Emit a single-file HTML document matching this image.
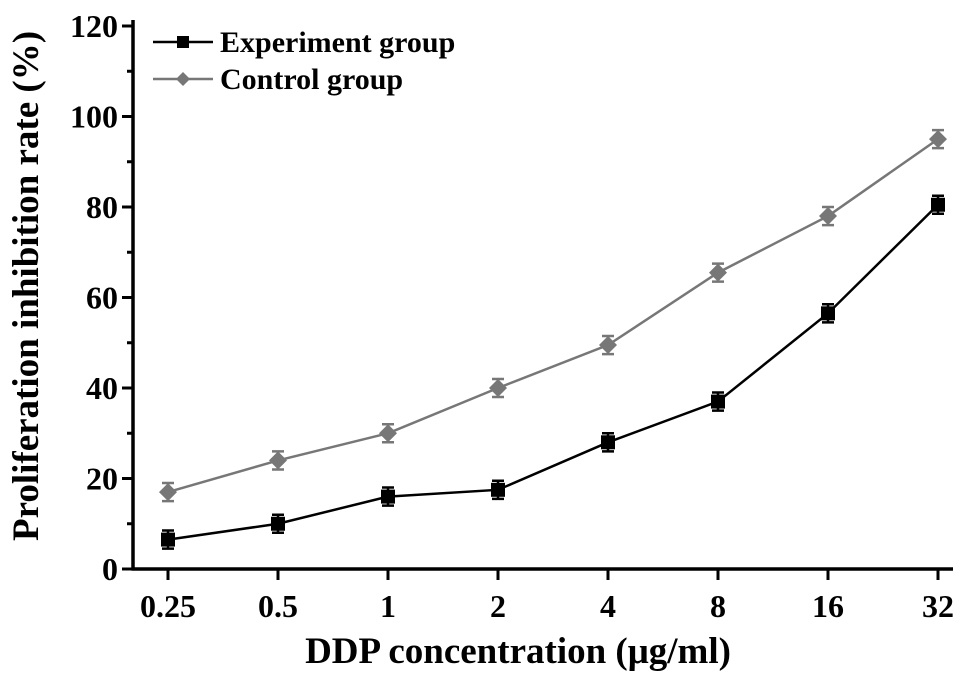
<!DOCTYPE html>
<html><head><meta charset="utf-8"><style>
body{margin:0;background:#fff}
svg{display:block;font-family:"Liberation Serif",serif;font-weight:bold}
</style></head><body>
<svg id="chart" width="969" height="681" viewBox="0 0 969 681" xmlns="http://www.w3.org/2000/svg">
<g id="axes"></g>
<g id="series"></g>
<g>
  <g>
    <line x1="153" y1="42" x2="213" y2="42" stroke="#000" stroke-width="2.5"/>
    <rect x="177" y="36" width="12" height="12" fill="#000"/>
    <text x="220" y="52" font-size="30" fill="#000">Experiment group</text>
  </g>
  <g>
    <line x1="153" y1="79" x2="213" y2="79" stroke="#777" stroke-width="2.5"/>
    <polygon points="183,72 190,79 183,86 176,79" fill="#777"/>
    <text x="220" y="89" font-size="30" fill="#000">Control group</text>
  </g>
</g>
<text x="518" y="663" font-size="37" text-anchor="middle">DDP concentration (μg/ml)</text>
<text transform="translate(38,286) rotate(-90)" font-size="37" text-anchor="middle">Proliferation inhibition rate (%)</text>
</svg>
<script>
const categories = ["0.25","0.5","1","2","4","8","16","32"];
const experimentValues = [6.5, 10, 16, 17.5, 28, 37, 56.5, 80.5];
const controlValues = [17, 24, 30, 40, 49.5, 65.5, 78, 95];
const experimentErr = [2, 2, 2, 2, 2, 2, 2, 2];
const controlErr = [2, 2, 2, 2, 2, 2, 2, 2];
const yTicks = [0, 20, 40, 60, 80, 100, 120];
const yMinor = [10, 30, 50, 70, 90, 110];

const NS = "http://www.w3.org/2000/svg";
const x0 = 168, dx = 110, yZero = 569, yTop = 26, axisX = 133;
function xScale(i){ return x0 + i*dx; }
function yScale(v){ return yZero - v*(yZero - yTop)/120; }
function mk(tag, attrs, parent){ const e = document.createElementNS(NS, tag); for (const k in attrs) e.setAttribute(k, attrs[k]); parent.appendChild(e); return e; }

const axes = document.getElementById('axes');
let yl = mk('line', {x1:axisX, y1:yTop-6, x2:axisX, y2:yZero+1.5, stroke:'#000', 'stroke-width':3.5}, axes);


let xl = mk('line', {x1:axisX-1.5, y1:yZero, x2:953, y2:yZero, stroke:'#000', 'stroke-width':3.5}, axes);


yTicks.forEach(v => {
  const y = yScale(v);
  const t = mk('line', {x1:axisX-11, y1:y, x2:axisX, y2:y, stroke:'#000', 'stroke-width':3}, axes);
  
  
  const l = mk('text', {x:axisX-15, y:y+11, 'font-size':32, 'text-anchor':'end'}, axes);
  l.textContent = v;
  
  
});
yMinor.forEach(v => {
  const y = yScale(v);
  const t = mk('line', {x1:axisX-6, y1:y, x2:axisX, y2:y, stroke:'#000', 'stroke-width':3}, axes);
  
  
});
categories.forEach((c, i) => {
  const x = xScale(i);
  const t = mk('line', {x1:x, y1:yZero, x2:x, y2:yZero+11, stroke:'#000', 'stroke-width':3}, axes);
  
  
  const l = mk('text', {x:x, y:yZero+48, 'font-size':32, 'text-anchor':'middle'}, axes);
  l.textContent = c;
  
  
});

const series = document.getElementById('series');
function drawSeries(vals, errs, color, shape, name){
  const g = mk('g', {}, series);
  
  
  const pts = vals.map((v,i) => xScale(i)+','+yScale(v)).join(' ');
  const pl = mk('polyline', {points:pts, fill:'none', stroke:color, 'stroke-width':2.5}, g);
  
  
  vals.forEach((v,i) => {
    const x = xScale(i), y = yScale(v), yh = yScale(v+errs[i]), ylo = yScale(v-errs[i]);
    const eb = mk('path', {d:`M${x},${yh}V${ylo}M${x-6},${yh}H${x+6}M${x-6},${ylo}H${x+6}`, stroke:color, 'stroke-width':2.5, fill:'none'}, g);
    
    
    let m;
    if (shape === 'square') m = mk('rect', {x:x-7, y:y-7, width:14, height:14, fill:color}, g);
    else m = mk('polygon', {points:`${x},${y-9} ${x+9},${y} ${x},${y+9} ${x-9},${y}`, fill:color}, g);
    
    
  });
}
drawSeries(controlValues, controlErr, '#777', 'diamond', 'control-series');
drawSeries(experimentValues, experimentErr, '#000', 'square', 'experiment-series');
</script>
</body></html>
